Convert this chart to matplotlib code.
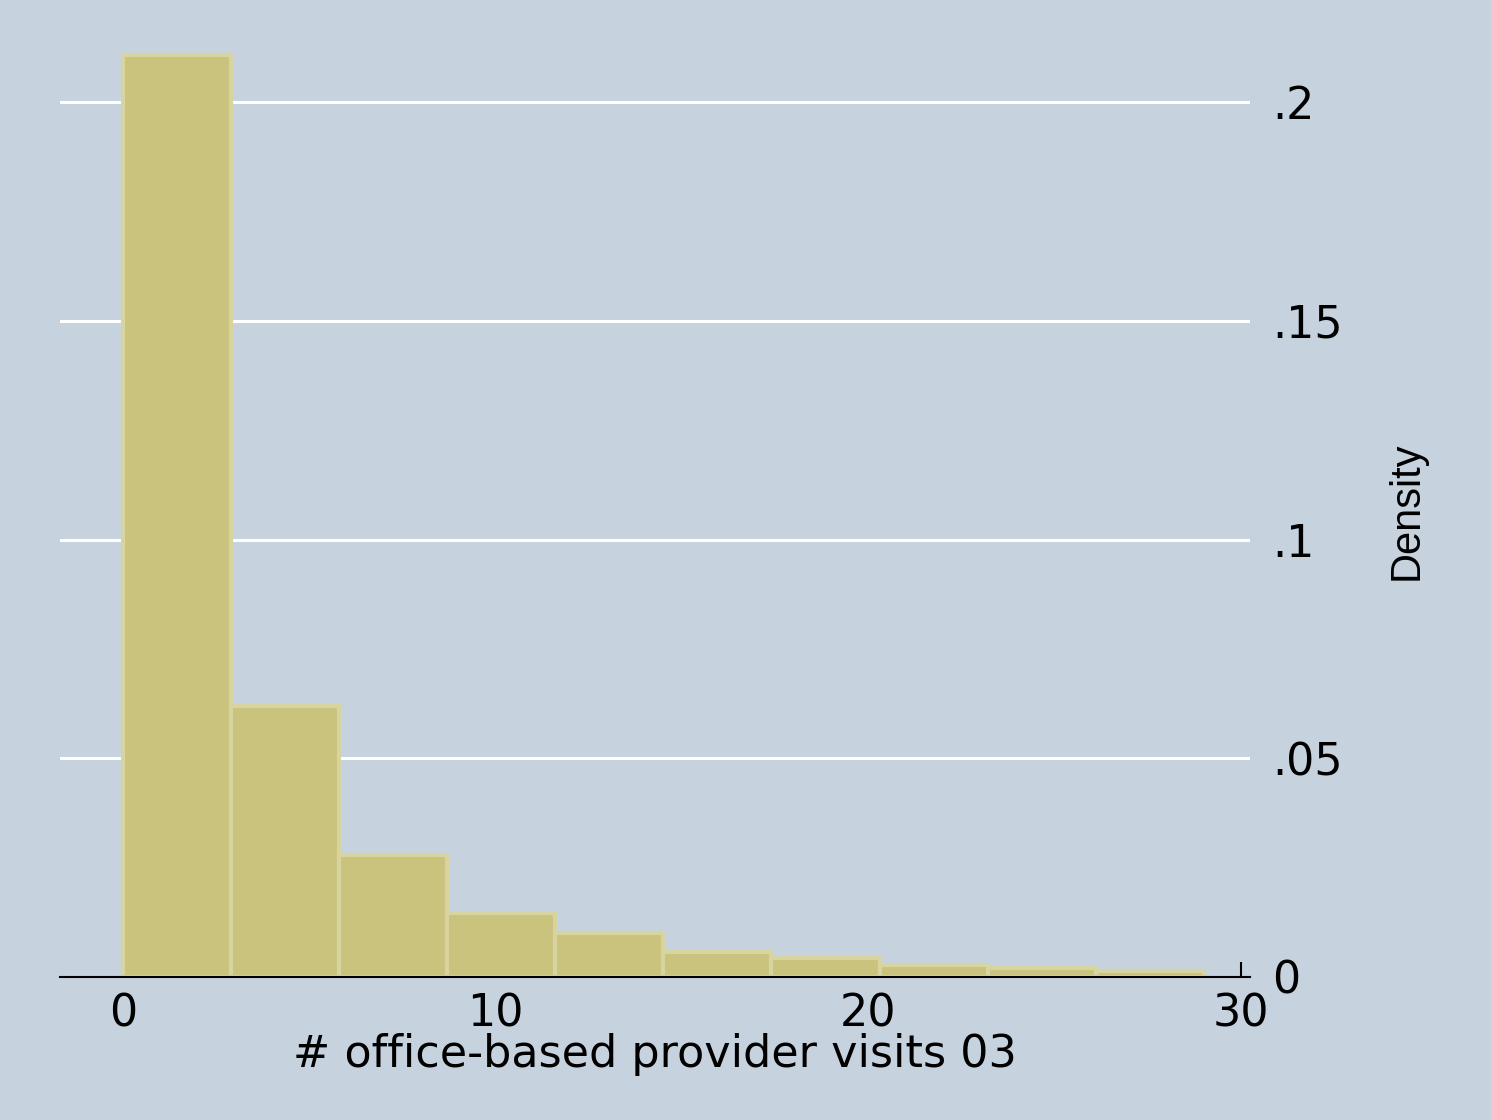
import numpy as np
import matplotlib.pyplot as plt

# histogram of office-based provider visits (density scale, 10 bins of width 2.9)
bin_edges = [0, 2.9, 5.8, 8.7, 11.6, 14.5, 17.4, 20.3, 23.2, 26.1, 29.0]
density = [0.2108, 0.0619, 0.0280, 0.0147, 0.0101, 0.0057, 0.0043, 0.0027, 0.0021, 0.0014]
x_ticks = [0, 10, 20, 30]
y_ticks = [0, 0.05, 0.1, 0.15, 0.2]
y_tick_labels = ['0', '.05', '.1', '.15', '.2']

BG = '#c6d3df'
BAR_FILL = '#cac37e'
BAR_EDGE = '#d8d49f'
WIDE_FONT = ['DejaVu Sans']

plt.rcParams['font.family'] = ['Liberation Sans', 'DejaVu Sans']

fig = plt.figure(figsize=(14.91, 11.2), dpi=100)
fig.set_facecolor(BG)
ax = fig.add_axes([0.0402, 0.1277, 0.7982, 0.8592])
ax.set_facecolor(BG)

widths = np.diff(bin_edges)
ax.bar(bin_edges[:-1], density, width=widths, align='edge',
       color=BAR_FILL, edgecolor=BAR_EDGE, linewidth=3, zorder=3)

ax.set_xlim(-1.69, 30.24)
ax.set_ylim(0, 0.22)

# white horizontal grid lines behind bars
for yv in y_ticks[1:]:
    ax.axhline(yv, color='white', linewidth=2.2, zorder=1)

for side in ['top', 'left', 'right']:
    ax.spines[side].set_visible(False)
ax.spines['bottom'].set_linewidth(1.5)
ax.spines['bottom'].set_color('black')
ax.spines['bottom'].set_zorder(4)

ax.set_xticks(x_ticks)
ax.set_xticklabels([str(v) for v in x_ticks], family=WIDE_FONT, fontsize=32)
ax.tick_params(axis='x', direction='in', length=11, width=1.5, pad=11,
               colors='black')

ax.yaxis.tick_right()
ax.set_yticks(y_ticks)
ax.set_yticklabels(y_tick_labels, family=WIDE_FONT, fontsize=32)
ax.tick_params(axis='y', length=0, pad=16)

ax.set_xlabel('# office-based provider visits 03', family=WIDE_FONT,
              fontsize=32, labelpad=0)
ax.xaxis.set_label_coords(0.5, -0.058)
ax.yaxis.set_label_position('right')
ax.set_ylabel('Density', fontsize=30, rotation=90)
ax.yaxis.set_label_coords(1.115, 0.485)

plt.savefig('out.png', dpi=100, facecolor=BG)
